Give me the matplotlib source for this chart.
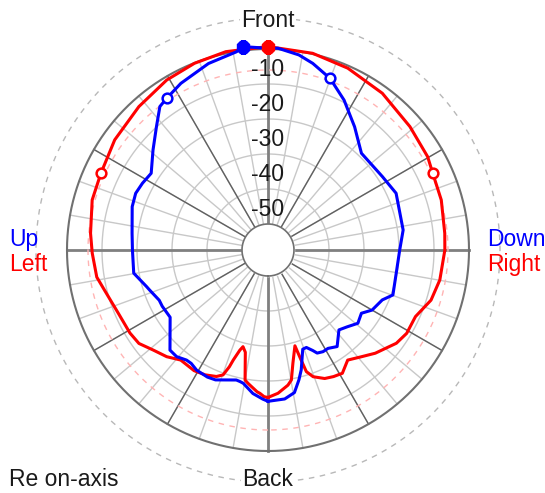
import numpy as np
import matplotlib
matplotlib.use("Agg")
import matplotlib.pyplot as plt

plt.rcParams['font.family'] = ['Liberation Sans', 'DejaVu Sans']

# Horizontal response (red, Left/Right): degrees from front (clockwise), level in dB
red_angles = [-180, -178.5, -176.8, -175.6, -171.5, -170, -167.5, -165.5, -164.3, -162.5,
              -161.7, -160.2, -157.8, -153.3, -148.5, -141.6, -136.5, -133.7, -131, -125.9,
              -121, -112.9, -103.7, -99, -91, -84.6, -74.1, -65.4, -54.3, -42,
              -30.8, -21.5, -12, 0, 12.8, 23.7, 36.1, 49, 59.7, 65,
              73.9, 84.6, 90, 99.9, 107.1, 114.3, 121, 126, 133.9, 138.8,
              144.1, 148.9, 152.6, 156.2, 160.4, 162.5, 163.3, 164.3, 167.6, 169.8,
              171.6, 176, 180]
red_db = [-15.3, -15.5, -16.4, -16.8, -18.9, -19.7, -27.5, -28.9, -27.7, -24.5,
          -22.3, -19.5, -18.4, -17.5, -17.0, -17.3, -15.4, -14.7, -13.9, -11.9,
          -11.4, -11.0, -9.3, -7.9, -7.2, -6.5, -5.2, -4.9, -3.5, -2.3,
          -0.9, -0.1, 0.5, 0.7, 0.2, -0.7, -2.0, -3.7, -4.6, -5.5,
          -5.9, -6.7, -6.9, -7.6, -8.7, -11.2, -11.2, -12.1, -14.9, -16.9,
          -18.6, -16.3, -16.7, -17.3, -19.0, -21.0, -24.8, -29.0, -24.3, -19.7,
          -18.4, -16.4, -15.3]

# Vertical response (blue, Up/Down)
blue_angles = [-180, -178, -174, -169.5, -168, -166.3, -158, -154.5, -149.3, -145.9,
               -143.5, -139.4, -135.6, -124.5, -118, -114.8, -108.6, -106.8, -99.8, -90,
               -83, -72.3, -66.8, -62, -56.7, -49, -42.1, -37, -33.7, -27.6,
               -17.7, -9.1, -6.9, 0, 2.8, 9, 13.5, 19.9, 26.9, 35.1,
               44, 57.3, 66.1, 81.6, 90, 100.3, 109.8, 113.6, 120, 124.1,
               129.2, 134.1, 138.4, 144.4, 148.6, 151.6, 154.5, 156, 158.5, 160.7,
               164.5, 166.6, 169.5, 173.6, 180]
blue_db = [-14.2, -14.8, -16.2, -18.7, -19.0, -19.2, -17.4, -17.2, -17.5, -18.3,
           -18.3, -17.3, -17.4, -23.5, -23.2, -23.2, -21.7, -21.2, -18.5, -18.7,
           -18.3, -16.7, -16.3, -16.8, -17.5, -13.9, -9.9, -6.1, -5.3, -3.7,
           -1.5, -0.1, 1.1, 0.2, 0.3, -1.0, -2.6, -5.3, -9.4, -14.4,
           -19.0, -18.6, -17.4, -18.4, -19.8, -20.2, -19.5, -21.8, -23.1, -25.2,
           -24.3, -25.9, -26.9, -23.5, -24.5, -24.4, -24.8, -26.0, -27.5, -27.4,
           -21.9, -19.3, -16.0, -14.6, -14.2]

# Peak (filled) and -6 dB (open) markers
red_peak_angle, red_peak_db = [0], [0.7]
blue_peak_angle, blue_peak_db = [-6.9], [1.1]
red_6db_angles, red_6db_db = [-65.4, 65], [-4.9, -5.5]
blue_6db_angles, blue_6db_db = [-33.7, 19.9], [-5.3, -5.3]

ring_levels = [-10, -20, -30, -40]
label_levels = [-10, -20, -30, -40, -50]
label_texts = ['-10', '-20', '-30', '-40', '-50']

R_CENTER = -57.43   # dB at the centre of the plot
R_TOP = 9.5
INNER = -50
REF_6DB = -6
OUTER_DASH = 8.86
W, H = 545, 493
CX, CY = 268, 250
PX_PER_DB = 3.5
FS = 16.5

fig = plt.figure(figsize=(W / 100, H / 100), dpi=100)
rad_px = (R_TOP - R_CENTER) * PX_PER_DB
ax = fig.add_axes([(CX - rad_px) / W, 1 - (CY + rad_px) / H, 2 * rad_px / W, 2 * rad_px / H],
                  projection='polar')
ax.set_theta_zero_location('N')
ax.set_theta_direction(-1)
ax.set_ylim(R_CENTER, R_TOP)
ax.axis('off')

full = np.radians(np.linspace(-180, 180, 1441))


def ring(level, **kw):
    ax.plot(full, np.full_like(full, level), **kw)


def spoke(deg, **kw):
    t = np.radians(deg)
    ax.plot([t, t], [INNER, 0], **kw)


# grid: light 10 degree spokes and 10 dB rings
for a in range(0, 360, 10):
    spoke(a, color='#c8c8c8', lw=1, zorder=1)
for lv in ring_levels:
    ring(lv, color='#c8c8c8', lw=1, zorder=1)
for a in range(30, 360, 30):
    if a % 90:
        spoke(a, color='#606060', lw=1, zorder=2)
for a in range(0, 360, 90):
    spoke(a, color='#808080', lw=2, zorder=2)
ring(0, color='#707070', lw=1.5, zorder=2)
ring(REF_6DB, color='#ffb4b4', lw=1, ls=(0, (4, 4)), zorder=2)
ring(OUTER_DASH, color='#b8b8b8', lw=1, ls=(0, (4, 4)), zorder=2)

# white disc in the middle
ax.fill_between(full, R_CENTER, INNER, color='white', zorder=3)
ring(INNER, color='#707070', lw=1.2, zorder=3)

# responses
ax.plot(np.radians(red_angles), red_db, color='#ff0000', lw=2.2, zorder=5)
ax.plot(np.radians(blue_angles), blue_db, color='#0000ff', lw=2.2, zorder=6)
ax.plot(np.radians(red_peak_angle), red_peak_db, '8', color='#ff0000', ms=10, zorder=7)
ax.plot(np.radians(blue_peak_angle), blue_peak_db, '8', color='#0000ff', ms=10, zorder=7)
ax.plot(np.radians(red_6db_angles), red_6db_db, 'o', mec='#ff0000', mfc='white',
        ms=7, mew=1.8, ls='none', zorder=7)
ax.plot(np.radians(blue_6db_angles), blue_6db_db, 'o', mec='#0000ff', mfc='white',
        ms=7, mew=1.8, ls='none', zorder=7)

# dB labels along the front axis
for lv, txt in zip(label_levels, label_texts):
    ax.text(0, lv + 4.0, txt, ha='center', va='center', fontsize=FS, color='#1a1a1a', zorder=8)


def ftext(x, y, s, color='#1a1a1a', ha='left', bg=False):
    kw = dict(ha=ha, va='baseline', fontsize=FS, color=color)
    if bg:
        kw['bbox'] = dict(facecolor='white', edgecolor='none', pad=1)
    fig.text(x / W, 1 - y / H, s, **kw)


ftext(CX, 27, 'Front', ha='center', bg=True)
ftext(CX, 486, 'Back', ha='center', bg=True)
ftext(9, 486, 'Re on-axis')
ftext(9, 246, 'Up', color='#0000ff')
ftext(9, 271, 'Left', color='#ff0000')
ftext(487, 246, 'Down', color='#0000ff')
ftext(487, 271, 'Right', color='#ff0000')

fig.savefig('out.png', dpi=100, facecolor='white')
